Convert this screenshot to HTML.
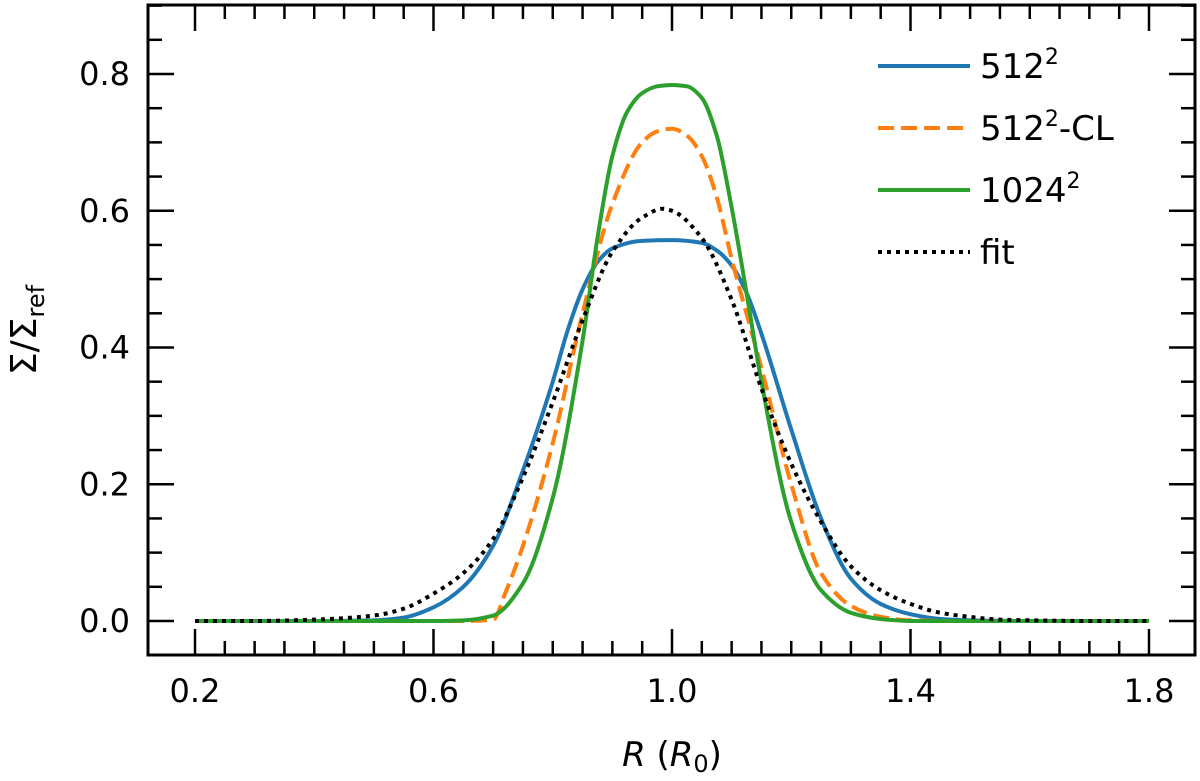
<!DOCTYPE html>
<html><head><meta charset="utf-8"><style>
body{margin:0;background:#fff;}
svg{display:block;font-family:"DejaVu Sans","Liberation Sans",sans-serif;}
</style></head><body>
<svg id="chart" width="1200" height="781">
<g id="series"></g>
<rect x="148" y="5" width="1047" height="650" fill="none" stroke="#000" stroke-width="3"/>
<g id="ticks"></g>
<text x="672" y="766" font-size="34" text-anchor="middle"><tspan font-style="italic">R</tspan> (<tspan font-style="italic">R</tspan><tspan font-size="24" dy="6">0</tspan><tspan dy="-6">)</tspan></text>
<text transform="translate(36,330) rotate(-90)" font-size="36" text-anchor="middle">Σ/Σ<tspan font-size="24" dy="8">ref</tspan></text>
<g>
<line x1="878" y1="66" x2="970" y2="66" stroke="#1f77b4" stroke-width="4"/>
<text x="980" y="78" font-size="34">512<tspan font-size="22" dy="-14">2</tspan></text>
<line x1="878" y1="128" x2="970" y2="128" stroke="#ff7f0e" stroke-width="4" stroke-dasharray="16,7"/>
<text x="980" y="140" font-size="34">512<tspan font-size="22" dy="-14">2</tspan><tspan dy="14">-CL</tspan></text>
<line x1="878" y1="190" x2="970" y2="190" stroke="#2ca02c" stroke-width="4"/>
<text x="980" y="202" font-size="34">1024<tspan font-size="22" dy="-14">2</tspan></text>
<line x1="878" y1="252" x2="970" y2="252" stroke="#000" stroke-width="4" stroke-dasharray="4,5"/>
<text x="980" y="264" font-size="34">fit</text>
</g>
</svg>
<script>
const xTicks=[0.2,0.6,1.0,1.4,1.8];
const xTickLabels=["0.2","0.6","1.0","1.4","1.8"];
const yTicks=[0,0.2,0.4,0.6,0.8];
const yTickLabels=["0.0","0.2","0.4","0.6","0.8"];
const rBlue=[0.2,0.3,0.4,0.5,0.55,0.6,0.65,0.7,0.75,0.8,0.825,0.85,0.875,0.9,0.95,1.0,1.05,1.075,1.1,1.125,1.15,1.2,1.25,1.3,1.35,1.4,1.45,1.5,1.6,1.7,1.8];
const vBlue=[0,0,0,0.001,0.005,0.02,0.05,0.11,0.22,0.35,0.425,0.485,0.525,0.545,0.556,0.557,0.553,0.542,0.52,0.48,0.42,0.28,0.15,0.062,0.025,0.01,0.003,0.001,0,0,0];
const rOrange=[0.2,0.4,0.6,0.65,0.7,0.72,0.75,0.8,0.85,0.9,0.95,0.975,1.0,1.025,1.05,1.075,1.1,1.15,1.2,1.25,1.3,1.35,1.4,1.5,1.6,1.8];
const vOrange=[0,0,0,0,0.002,0.04,0.11,0.26,0.45,0.61,0.70,0.716,0.72,0.71,0.68,0.62,0.53,0.37,0.2,0.07,0.022,0.006,0.001,0,0,0];
const rGreen=[0.2,0.4,0.6,0.65,0.7,0.75,0.8,0.85,0.875,0.9,0.925,0.95,0.975,1.0,1.025,1.05,1.075,1.1,1.125,1.15,1.2,1.25,1.3,1.35,1.4,1.5,1.6,1.8];
const vGreen=[0,0,0,0.001,0.008,0.055,0.18,0.41,0.56,0.68,0.745,0.772,0.782,0.784,0.782,0.765,0.71,0.605,0.48,0.35,0.145,0.045,0.012,0.003,0,0,0,0];
const rFit=[0.2,0.3,0.4,0.5,0.55,0.6,0.65,0.7,0.75,0.8,0.85,0.9,0.95,0.985,1.0,1.05,1.1,1.15,1.2,1.25,1.3,1.35,1.4,1.45,1.5,1.55,1.6,1.7,1.8];
const vFit=[0,0,0.002,0.008,0.018,0.04,0.07,0.12,0.21,0.32,0.44,0.54,0.59,0.603,0.6,0.56,0.47,0.34,0.23,0.145,0.08,0.045,0.025,0.012,0.006,0.002,0.001,0,0];
const NS="http://www.w3.org/2000/svg";
const X=v=>195+(v-0.2)*596.25;
const Y=v=>621-v*683.75;
const tk=document.getElementById('ticks');
function line(p,x1,y1,x2,y2,st,w,da){const l=document.createElementNS(NS,'line');l.setAttribute('x1',x1);l.setAttribute('y1',y1);l.setAttribute('x2',x2);l.setAttribute('y2',y2);l.setAttribute('stroke',st);l.setAttribute('stroke-width',w);if(da)l.setAttribute('stroke-dasharray',da);p.appendChild(l);return l;}
for(let i=0;i<=32;i++){const v=0.2+i*0.05;const x=X(v);const major=i%8===0;const L=major?26:14;
const a=line(tk,x,655,x,655-L,'#000',2.5);


const b=line(tk,x,5,x,5+L,'#000',2.5);

}
for(let i=-1;i<=18;i++){const v=i*0.05;const y=Y(v);if(y<5||y>655)continue;const major=i%4===0;const L=major?26:14;
const a=line(tk,148,y,148+L,y,'#000',2.5);


const b=line(tk,1195,y,1195-L,y,'#000',2.5);

}
xTicks.forEach((v,i)=>{const t=document.createElementNS(NS,'text');t.setAttribute('x',X(v));t.setAttribute('y',702);t.setAttribute('font-size','32');t.setAttribute('text-anchor','middle');t.textContent=xTickLabels[i];


tk.appendChild(t);});
yTicks.forEach((v,i)=>{const t=document.createElementNS(NS,'text');t.setAttribute('x',130);t.setAttribute('y',Y(v)+11);t.setAttribute('font-size','32');t.setAttribute('text-anchor','end');t.textContent=yTickLabels[i];


tk.appendChild(t);});
// monotone cubic (Fritsch-Carlson) in pixel space
function path(rs,vs){const xs=rs.map(X),ys=vs.map(Y);const n=xs.length;
const d=[],m=new Array(n);for(let i=0;i<n-1;i++)d.push((ys[i+1]-ys[i])/(xs[i+1]-xs[i]));
m[0]=d[0];m[n-1]=d[n-2];
for(let i=1;i<n-1;i++){if(d[i-1]*d[i]<=0)m[i]=0;else{const h0=xs[i]-xs[i-1],h1=xs[i+1]-xs[i];const w1=2*h1+h0,w2=h1+2*h0;m[i]=(w1+w2)/(w1/d[i-1]+w2/d[i]);}}
let s='M'+xs[0]+','+ys[0];
for(let i=0;i<n-1;i++){const h=(xs[i+1]-xs[i])/3;
s+=' C'+(xs[i]+h)+','+(ys[i]+m[i]*h)+' '+(xs[i+1]-h)+','+(ys[i+1]-m[i+1]*h)+' '+xs[i+1]+','+ys[i+1];}
return s;}
const sg=document.getElementById('series');
function draw(rs,vs,col,da,name){const e=document.createElementNS(NS,'path');e.setAttribute('d',path(rs,vs));e.setAttribute('fill','none');e.setAttribute('stroke',col);e.setAttribute('stroke-width','4');e.setAttribute('stroke-linejoin','round');if(da)e.setAttribute('stroke-dasharray',da);


sg.appendChild(e);}
draw(rBlue,vBlue,'#1f77b4',null,'series-512');
draw(rOrange,vOrange,'#ff7f0e','16,7','series-512-cl');
draw(rGreen,vGreen,'#2ca02c',null,'series-1024');
draw(rFit,vFit,'#000','4,5','series-fit');
</script>
</body></html>
